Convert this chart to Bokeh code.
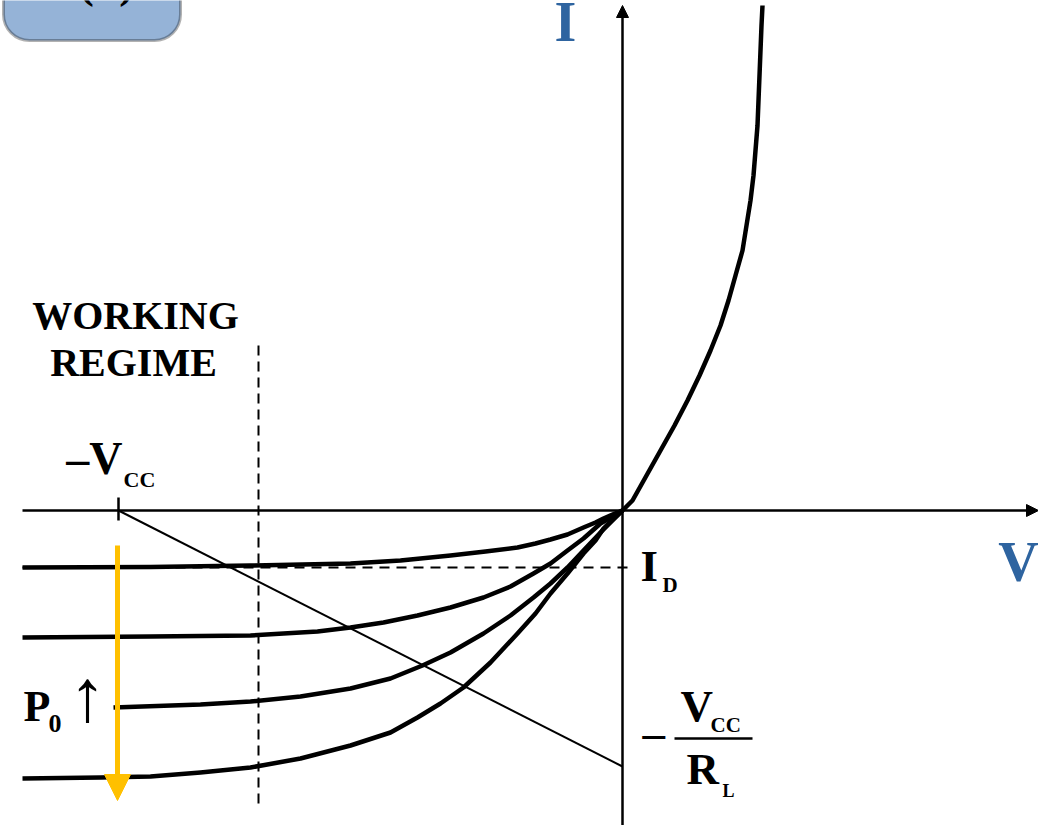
from bokeh.plotting import figure
from bokeh.models import Range1d, Arrow, NormalHead, BoxAnnotation
from bokeh.core.properties import value
from bokeh.embed import file_html
from bokeh.resources import INLINE

# Photodiode I-V characteristics (schematic units: V to the right, I upward)
# Reverse-bias branches, one per optical power level P0 (dark first)
curve_dark_v = [-600, -472, -372, -272, -222, -172, -137, -105, -87, -72, -55, -39, -27, -19, -10, 0]
curve_dark_i = [-57, -56.5, -55, -53, -50, -45, -41, -37, -33, -29, -24, -17, -12, -8, -4, 0]

curve_p1_v = [-600, -472, -372, -339, -305, -272, -239, -205, -172, -139, -112, -89, -72, -55, -39, -22, 0]
curve_p1_i = [-127, -126, -125, -123, -121, -117, -112, -105, -97, -87, -76, -63, -53, -40, -28, -13, 0]

curve_p2_v = [-509, -422, -372, -322, -272, -232, -200, -172, -139, -112, -89, -72, -55, -39, -22, -11, 0]
curve_p2_i = [-197, -194, -191, -186, -178, -168, -155, -142, -123, -105, -87, -73, -57, -40, -22, -11, 0]

curve_p3_v = [-600, -522, -472, -422, -372, -322, -272, -232, -205, -182, -159, -132, -105, -87, -72,
              -55, -39, -27, -19, -10, 0]
curve_p3_i = [-268, -267, -266, -262, -257, -248, -235, -222, -207, -193, -177, -152, -123, -103, -83,
              -63, -43, -30, -18, -9, 0]

# Forward-bias branch
forward_v = [0, 5, 10, 24, 38, 52, 65, 77, 88, 98, 106, 113, 120, 124, 128, 131, 133, 135, 136, 137,
             138, 139, 140]
forward_i = [0, 5, 10, 35, 60, 85, 110, 135, 160, 185, 210, 235, 260, 285, 310, 335, 360, 385, 410, 435,
             460, 485, 505]

# Operating points
vcc = -504          # supply voltage -Vcc on the V axis
vcc_over_rl = -256  # load-line intercept -Vcc/RL on the I axis
i_dark = -57        # dark current level I_D
regime_edge = -364  # boundary of the working regime

FONT = value("Liberation Serif")
BLUE = "#2E64A0"
GOLD = "#FFC000"
BASELINE_SHIFT = 0.37  # em fraction: lifts glyphs so the baseline lands on y

p = figure(width=1038, height=825,
           x_range=Range1d(-622, 416), y_range=Range1d(-315, 510),
           output_backend="svg", toolbar_location=None,
           x_axis_location=None, y_axis_location=None,
           min_border=0)
p.grid.visible = False
p.outline_line_color = None
p.background_fill_color = "white"
p.border_fill_color = "white"


def label(x, y, txt, size, align="left", color="black", bold=True, font=FONT):
    p.text(x=[x], y=[y + BASELINE_SHIFT * size], text=[txt], text_font=font,
           text_font_style="bold" if bold else "normal",
           text_font_size=f"{size}px", text_align=align, text_baseline="alphabetic",
           text_color=color)


# Panel tag in the corner (drawn beneath the glyphs)
tag = BoxAnnotation(left=-619, right=-442, bottom=470, top=700,
                    fill_color="#95B3D7", fill_alpha=1.0,
                    line_color="black", line_width=3, border_radius=26,
                    level="underlay")
p.add_layout(tag)
label(-516, 512, "(b)", 46, align="center")

# Coordinate axes with arrowheads
p.add_layout(Arrow(end=NormalHead(size=12, fill_color="black", line_color="black"),
                   x_start=-600, y_start=0, x_end=416, y_end=0,
                   line_width=2.5, line_color="black"))
p.add_layout(Arrow(end=NormalHead(size=12, fill_color="black", line_color="black"),
                   x_start=0, y_start=-315, x_end=0, y_end=505,
                   line_width=2.5, line_color="black"))

# Working-regime boundary and dark-current level
p.line(x=[regime_edge, regime_edge], y=[165, -298], line_color="black",
       line_width=2, line_dash="10 6")
p.line(x=[-600, 10], y=[i_dark, i_dark], line_color="black",
       line_width=2, line_dash="10 7")

# Load line from -Vcc to -Vcc/RL, with a tick at -Vcc
p.line(x=[vcc, 0], y=[0, vcc_over_rl], line_color="black", line_width=2)
p.line(x=[vcc, vcc], y=[13, -10], line_color="black", line_width=2.5)

# Characteristic curves
for vs, cs in [(curve_dark_v, curve_dark_i), (curve_p1_v, curve_p1_i),
               (curve_p2_v, curve_p2_i), (curve_p3_v, curve_p3_i),
               (forward_v, forward_i)]:
    p.line(x=vs, y=cs, line_color="black", line_width=4.5, line_join="round")

# Increasing optical power
p.add_layout(Arrow(end=NormalHead(size=26, fill_color=GOLD, line_color=GOLD),
                   x_start=-505, y_start=-35, x_end=-505, y_end=-290,
                   line_width=5, line_color=GOLD))

# Axis names
label(-57, 468, "I", 56, align="center", color=BLUE)
label(396, -72, "V", 56, align="center", color=BLUE)

# Region label
label(-487, 180, "WORKING", 40, align="center")
label(-489, 133, "REGIME", 40, align="center")

# -Vcc
label(-500, 35, "–V", 46, align="right")
label(-499, 23, "CC", 22)

# I_D
label(18, -72, "I", 45)
label(40, -82, "D", 21)

# -Vcc / RL
label(20, -239, "–", 45)
p.line(x=[52, 130], y=[-228, -228], line_color="black", line_width=2.5)
label(58, -212, "V", 45)
label(88, -222, "CC", 21)
label(64, -275, "R", 45)
label(100, -287, "L", 18)

# P0 increasing
label(-599, -212, "P", 44)
label(-574, -223, "0", 26)
label(-535, -213, "↑", 74, align="center")

open("out.html", "w").write(file_html(p, INLINE))
